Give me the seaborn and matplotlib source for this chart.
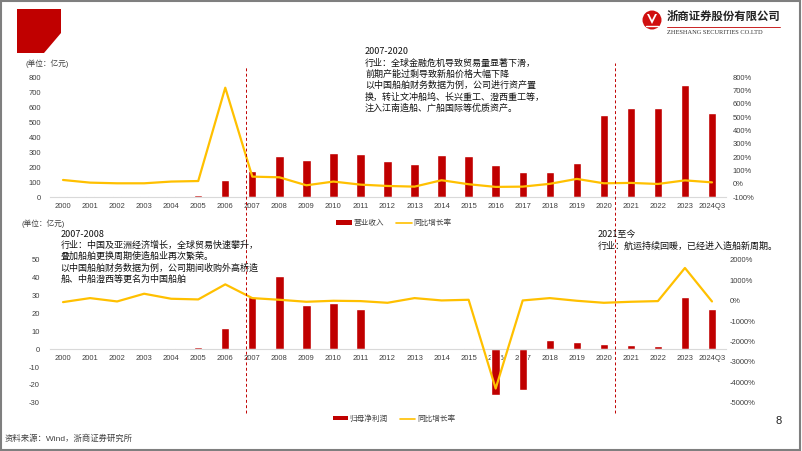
import numpy as np
import pandas as pd
import matplotlib
matplotlib.use("Agg")
import matplotlib.pyplot as plt
import matplotlib.transforms as mtransforms
from matplotlib.lines import Line2D
from matplotlib.patches import Polygon, Circle, Rectangle
from matplotlib.ticker import FuncFormatter
import seaborn as sns

# ---------------- data ----------------
years = ['2000', '2001', '2002', '2003', '2004', '2005', '2006', '2007', '2008', '2009',
         '2010', '2011', '2012', '2013', '2014', '2015', '2016', '2017', '2018', '2019',
         '2020', '2021', '2022', '2023', '2024Q3']
revenue = [7, 8, 8, 9, 11, 14, 115, 178, 275, 251, 298, 287, 242, 220, 282, 275,
           213, 167, 169, 231, 551, 596, 593, 749, 560]
revenue_yoy = [30, 10, 5, 5, 18, 22, 722, 55, 50, -10, 18, -5, -15, -20, 28, -2,
               -22, -20, 1, 38, 5, 8, 0, 27, 12]
profit = [-0.5, 0.1, 0.1, 0.3, 0.5, 1.3, 12.1, 29.0, 41.3, 24.9, 26.0, 22.4, 0.2, 0.3,
          0.3, 0.5, -25.8, -22.8, 4.9, 3.9, 3.0, 2.1, 1.7, 29.2, 22.6]
profit_yoy = [-66, 131, -33, 345, 99, 66, 805, 131, 49, -49, 0, -16, -99, 131, 16, 49,
              -4305, 16, 131, 0, -99, -49, -16, 1610, -33]

top_left_ticks = list(range(0, 801, 100))
top_right_ticks = list(range(-100, 801, 100))
bot_left_ticks = list(range(-30, 51, 10))
bot_right_ticks = list(range(-5000, 2001, 1000))

legend_top = ['营业收入', '同比增长率']
legend_bot = ['归母净利润', '同比增长率']
unit_label = '(单位：亿元)'
note_top = ("2007-2020\n行业：全球金融危机导致贸易量显著下滑，\n前期产能过剩导致新船价格大幅下降\n"
            "以中国船舶财务数据为例，公司进行资产置\n换，转让文冲船坞、长兴重工、澄西重工等，\n"
            "注入江南造船、广船国际等优质资产。")
note_bl = ("2007-2008\n行业：中国及亚洲经济增长，全球贸易快速攀升，\n叠加船舶更换周期使造船业再次繁荣。\n"
           "以中国船舶财务数据为例，公司期间收购外高桥造\n船、中船澄西等更名为中国船舶")
note_br = "2021至今\n行业：航运持续回暖，已经进入造船新周期。"
source = '资料来源：Wind，浙商证券研究所'
page_no = '8'
company_cn = '浙商证券股份有限公司'
company_en = 'ZHESHANG SECURITIES CO.LTD'
divider_positions = [6.75, 20.4]

RED = '#C00000'
YEL = '#FFC000'
TXT = '#404040'

df = pd.DataFrame({'year': years, 'revenue': revenue, 'revenue_yoy': revenue_yoy,
                   'profit': profit, 'profit_yoy': profit_yoy, 'pos': np.arange(len(years))})

sns.set_style('white')
plt.rcParams['font.family'] = ['Liberation Sans', 'Noto Sans CJK SC']
plt.rcParams['axes.unicode_minus'] = False

W, H = 802, 451
fig = plt.figure(figsize=(W / 100, H / 100), dpi=100)


def fx(p):
    return p / W


def fy(p):
    return 1 - p / H


n = len(years)
ax_top = fig.add_axes([fx(49.5), fy(197.3), 676 / W, 120.0 / H])
ax_bot = fig.add_axes([fx(49.5), fy(402.7), 676 / W, 142.7 / H])

pct = FuncFormatter(lambda v, p: f"{int(v)}%")

for ax, col, ycol, ylim, lt, rlim, rt, lpad, rpad in [
        (ax_top, 'revenue', 'revenue_yoy', (0, 800), top_left_ticks, (-100, 800), top_right_ticks, 6.0, 5.2),
        (ax_bot, 'profit', 'profit_yoy', (-30, 50), bot_left_ticks, (-5000, 2000), bot_right_ticks, 7.0, 2.8)]:
    sns.barplot(data=df, x='year', y=col, ax=ax, color=RED, saturation=1, width=0.31)
    ax.set_xlim(-0.5, n - 0.5)
    ax.set_ylim(*ylim)
    ax.set_yticks(lt)
    ax.set_xlabel('')
    ax.set_ylabel('')
    for s in ['top', 'left', 'right']:
        ax.spines[s].set_visible(False)
    ax.spines['bottom'].set_color('#D9D9D9')
    ax.spines['bottom'].set_linewidth(0.8)
    ax.tick_params(axis='both', length=0, labelsize=5.5, colors=TXT)
    ax.tick_params(axis='y', pad=lpad)
    ax.tick_params(axis='x', pad=4)
    ax.set_axisbelow(True)

    ax2 = ax.twinx()
    sns.lineplot(data=df, x='pos', y=ycol, ax=ax2, color=YEL, linewidth=1.6)
    ax2.set_ylim(*rlim)
    ax2.set_yticks(rt)
    ax2.yaxis.set_major_formatter(pct)
    ax2.set_xlim(-0.5, n - 0.5)
    ax2.set_xlabel('')
    ax2.set_ylabel('')
    for s in ax2.spines.values():
        s.set_visible(False)
    ax2.tick_params(axis='y', length=0, labelsize=5.5, colors=TXT, pad=rpad)
    ax2.grid(False)
    ax.grid(False)

ax_bot.spines['bottom'].set_position(('data', 0))

# legends
for labels, cy in [(legend_top, 223.3), (legend_bot, 419)]:
    handles = [Rectangle((0, 0), 1, 1, facecolor=RED, edgecolor='none'),
               Line2D([0], [0], color=YEL, lw=1.2)]
    fig.legend(handles, labels, loc='center', bbox_to_anchor=(fx(394), fy(cy)),
               bbox_transform=fig.transFigure, ncol=2, frameon=False, fontsize=5.5,
               handlelength=2.0, handleheight=0.5, handletextpad=0.25,
               columnspacing=1.6, labelcolor=TXT)

# dashed dividers
trans = mtransforms.blended_transform_factory(ax_top.transData, fig.transFigure)
for xpos, ytop in zip(divider_positions, [67, 63]):
    fig.add_artist(Line2D([xpos, xpos], [fy(413), fy(ytop)], transform=trans,
                          color=RED, lw=0.7, ls=(0, (3, 2.5))))

# units
fig.text(fx(25), fy(63.3), unit_label, fontsize=5.5, va='center', ha='left', color=TXT)
fig.text(fx(21), fy(223.3), unit_label, fontsize=5.5, va='center', ha='left', color=TXT)

# notes
cjk = ['Noto Sans CJK SC']
fig.text(fx(365), fy(47.5), note_top, fontsize=6.5, va='top', ha='left', family=cjk,
         linespacing=1.3, color='#111111')
fig.text(fx(60.5), fy(229.5), note_bl, fontsize=6.5, va='top', ha='left', family=cjk,
         linespacing=1.3, color='#111111')
fig.text(fx(597.5), fy(230), note_br, fontsize=6.5, va='top', ha='left', family=cjk,
         linespacing=1.3, color='#111111')

# header decoration
dpt = fig.dpi_scale_trans


def pt(x, y):
    return (x / 100, (H - y) / 100)


fig.add_artist(Polygon([pt(17, 9), pt(61, 9), pt(61, 33), pt(44, 53), pt(17, 53)],
                       closed=True, facecolor=RED, edgecolor='none', transform=dpt))
fig.add_artist(Circle(pt(652, 20), 0.095, facecolor='#D01010', edgecolor='none', transform=dpt))
fig.add_artist(Polygon([pt(647, 14), pt(652, 24), pt(657, 14), pt(655, 14), pt(652, 20), pt(649, 14)],
                       closed=True, facecolor='white', edgecolor='none', transform=dpt))
fig.add_artist(Line2D([6.46, 6.58], [(H - 26) / 100, (H - 26) / 100], transform=dpt,
                      color='white', lw=1.0))
fig.text(fx(667), fy(16), company_cn, fontsize=8.2, va='center', ha='left', family=cjk,
         fontweight='bold', color='#222222')
fig.add_artist(Line2D([6.67, 7.80], [(H - 27.5) / 100, (H - 27.5) / 100], transform=dpt,
                      color=RED, lw=0.6))
fig.text(fx(667), fy(33), company_en, fontsize=4.6, va='center', ha='left',
         family=['Liberation Serif'], color='#333333')

# footer
fig.text(fx(5), fy(439), source, fontsize=6, va='center', ha='left', color=TXT)
fig.text(fx(779), fy(421), page_no, fontsize=8, va='center', ha='center', color='#222222')

# frame
fig.add_artist(Rectangle(pt(1, 449.5), 799 / 100, 448.5 / 100, transform=dpt,
                         facecolor='none', edgecolor='#7F7F7F', lw=1.5))

fig.savefig('out.png', dpi=100)
